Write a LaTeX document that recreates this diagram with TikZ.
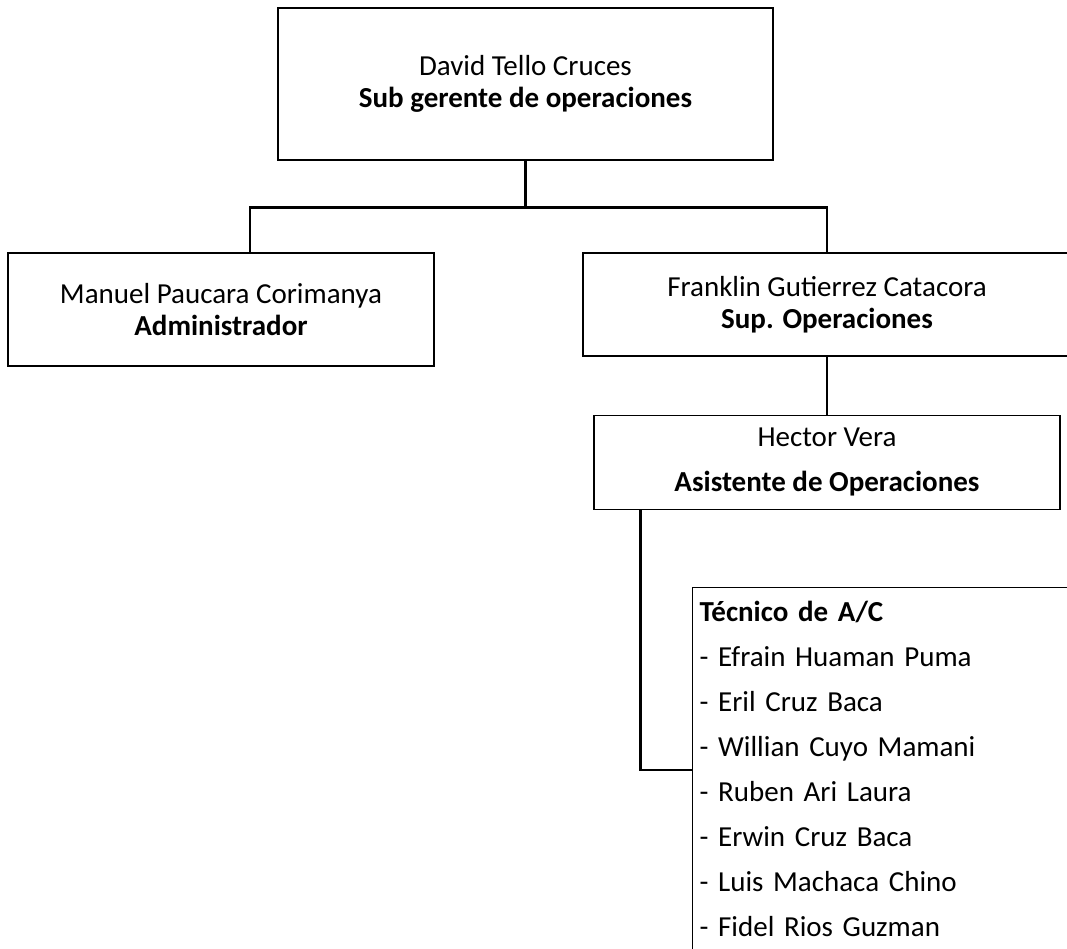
\documentclass[tikz,border=0pt]{standalone}
\usepackage{fontspec}
\setmainfont{Carlito}
\usetikzlibrary{positioning,calc}
\tikzset{
	cargo/.style={
		rectangle,
		draw=black, line width=0.6pt,
		align=center,
		font=\fontsize{14.5}{16}\selectfont,
		inner sep=0pt},
	lista/.style={
		rectangle,
		draw=black, line width=0.6pt,
		align=left,
		font=\fontsize{14.5}{22.5}\selectfont,
		inner xsep=3.5pt, inner ysep=7pt},
	link/.style={draw, line width=1.3pt},
	fino/.style={draw, line width=0.6pt},
}

\begin{document}
\begin{tikzpicture}
[x=0.5pt, y=-0.5pt, node distance=29pt]
\clip (0,0) rectangle (1067,949);
\node[cargo, minimum width=247.5pt, minimum height=76pt] (sub) at (525.5,84)
	{David Tello Cruces\\ \textbf{Sub gerente de operaciones}};
\node[cargo, minimum width=213pt, minimum height=56.5pt] (adm) at (221,309.5)
	{Manuel Paucara Corimanya\\ \textbf{Administrador}};
\node[cargo, minimum width=244pt, minimum height=51.5pt] (sup) at (827,304.5)
	{Franklin Gutierrez Catacora\\ \textbf{Sup. Operaciones}};
\node[cargo, minimum width=233pt, minimum height=47pt,
	font=\fontsize{14.5}{22.5}\selectfont, below=of sup] (hec)
	{Hector Vera\\ \textbf{Asistente de Operaciones}};
\node[lista, anchor=north west, text width=193pt] (tec) at (692,587)
	{\textbf{Técnico de A/C}\\ - Efrain Huaman Puma\\ - Eril Cruz Baca\\
	 - Willian Cuyo Mamani\\ - Ruben Ari Laura\\ - Erwin Cruz Baca\\
	 - Luis Machaca Chino\\ - Fidel Rios Guzman\par\vspace*{16pt}};

% lineas
\draw[link] (sub.south) -- ++(0,47) coordinate (barra);
\draw[link] ($(adm.north)+(29,0)$) |- (barra) -| (sup.north);
\draw[fino] (sup) -- (hec);
\draw[link] ($(hec.south west)+(47,0)$) |- ($(tec.north west)+(0,183)$);
\end{tikzpicture}
\end{document}
